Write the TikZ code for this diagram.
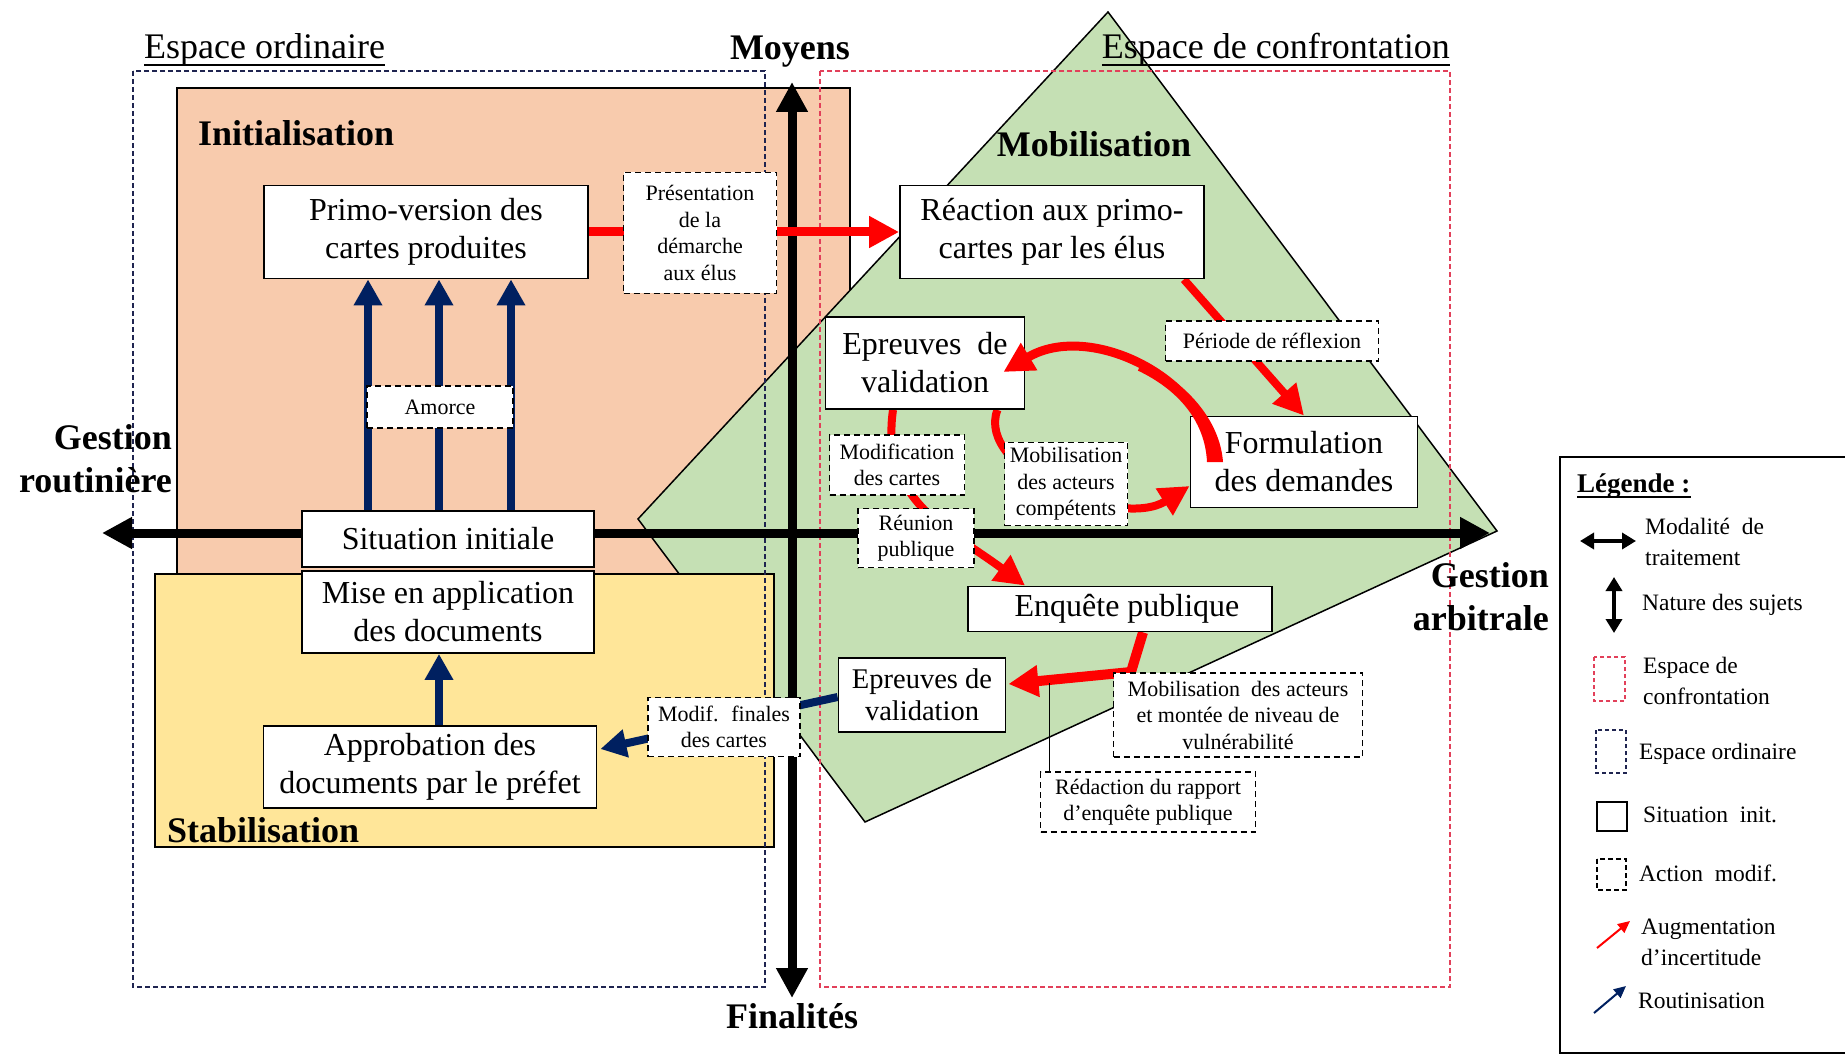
\documentclass[tikz,border=0pt]{standalone}
\usepackage{fontspec}
\setmainfont{Liberation Serif}
\usetikzlibrary{arrows.meta,calc}
\pgfdeclarelayer{back}
\pgfdeclarelayer{mid}
\pgfdeclarelayer{front}
\pgfsetlayers{back,mid,main,front}
\definecolor{salmon}{HTML}{F8CBAD}
\definecolor{gold}{HTML}{FFE699}
\definecolor{lgreen}{HTML}{C5E0B4}
\definecolor{navy}{HTML}{002060}
\definecolor{ordblue}{HTML}{1F2450}
\definecolor{confred}{HTML}{E2405A}
\tikzset{
  sz/.style 2 args={minimum width=#1pt, minimum height=#2pt},
  box/.style={draw=black, line width=1.8pt, fill=white, align=center, inner sep=0pt, font=\fontsize{32}{38}\selectfont},
  dbox/.style={draw=black, line width=1.6pt, dash pattern=on 6pt off 4pt, fill=white, align=center, inner sep=0pt, font=\fontsize{22}{26.5}\selectfont},
  lbl/.style={font=\fontsize{36}{43}\selectfont\bfseries, inner sep=0pt},
  ttl/.style={font=\fontsize{36}{43}\selectfont, inner sep=0pt},
  leg/.style={font=\fontsize{23.5}{31}\selectfont, inner sep=0pt, align=left, anchor=west},
  redar/.style={draw=red, line width=9pt, -{Triangle[length=30pt,width=30pt]}},
  navar/.style={draw=navy, line width=8pt, -{Triangle[length=26pt,width=27pt]}},
  axisar/.style={draw=black, line width=9pt, {Triangle[length=30pt,width=30pt]}-{Triangle[length=30pt,width=30pt]}},
  zone/.style={line width=1.4pt, dash pattern=on 5pt off 3pt},
  legar/.style={line width=4pt, {Triangle[length=14pt,width=16pt]}-{Triangle[length=14pt,width=16pt]}},
}
\begin{document}
\begin{tikzpicture}[x=1pt,y=-1pt]
\useasboundingbox (0,0) rectangle (1845,1056);

\begin{pgfonlayer}{back}
  \fill[white] (0,0) rectangle (1845,1056);
  \filldraw[fill=salmon, draw=black, line width=1.5pt] (177,88) rectangle (850,574);
  \filldraw[fill=lgreen, draw=black, line width=1.5pt] (1108,12) -- (1497,531) -- (865,822) -- (638,519) -- cycle;
  \filldraw[fill=gold, draw=black, line width=1.5pt] (155,574) rectangle (774,847);
  \draw[zone, draw=ordblue] (133,71) rectangle (765,987);
  \draw[zone, draw=confred] (820,71) rectangle (1450,987);
  \coordinate (axL) at (102,533);
  \coordinate (axR) at (1490,533);
  \coordinate (axT) at (792,82);
  \coordinate (axB) at (792,998);
  \draw[axisar] (axL) -- (axR);
  \draw[axisar] (axT) -- (axB);
\end{pgfonlayer}

% titles and labels
\node[ttl, anchor=base west] (eo) at (144,59) {Espace ordinaire};
\draw[line width=1.5pt] ([yshift=-6pt]eo.base west) -- ([yshift=-6pt]eo.base east);
\node[ttl, anchor=base east] (ec) at (1450,59) {Espace de confrontation};
\draw[line width=1.5pt] ([yshift=-6pt]ec.base west) -- ([yshift=-6pt]ec.base east);
\node[lbl] (moy) at (790,52) {Moyens};
\node[lbl] (fin) at (792,1016) {Finalités};
\node[lbl, anchor=west] (init) at (198,133) {Initialisation};
\node[lbl] (mobi) at (1094,144) {Mobilisation};
\node[lbl, anchor=west] (stab) at (167,830) {Stabilisation};
\node[lbl, anchor=east, align=right] (groute) at (172,459) {Gestion\\routinière};
\node[lbl, anchor=east, align=right] (garbi) at (1549,597) {Gestion\\arbitrale};

% solid boxes
\node[box, sz={324}{93}] (primo) at (426,232) {Primo-version des\\cartes produites};
\node[box, sz={304}{93}] (react) at (1052,232) {Réaction aux primo-\\cartes par les élus};
\node[box, sz={199}{92}] (epr1) at (925,363) {Epreuves~ de\\validation};
\node[box, sz={227}{91}] (form) at (1304,462) {Formulation\\des demandes};
\node[box, sz={292}{56}] (sit) at (448,539) {Situation initiale};
\node[box, sz={292}{82}] (mise) at (448,612) {Mise en application\\des documents};
\node[box, sz={333}{82}] (appr) at (430,767) {Approbation des\\documents par le préfet};
\node[box, sz={304}{45}] (enq) at (1120,609) {\hspace*{14pt}Enquête publique};
\node[box, sz={167}{74}, font=\fontsize{28.5}{32}\selectfont] (epr2) at (922,695) {Epreuves de\\validation};

% dashed boxes
\node[dbox, sz={153}{121}] (pres) at (700,233) {Présentation\\de la\\démarche\\aux élus};
\node[dbox, sz={146}{42}] (amor) at (440,407) {Amorce};
\node[dbox, sz={213}{40}] (peri) at (1272,341) {Période de réflexion};
\node[dbox, sz={135}{60}] (modc) at (897,465) {Modification\\des cartes};
\node[dbox, sz={123}{83}] (mobc) at (1066,484) {Mobilisation\\des acteurs\\compétents};
\node[dbox, sz={116}{59}] (reun) at (916,538) {Réunion\\publique};
\node[dbox, sz={152}{59}] (modf) at (724,727) {Modif.~ finales\\des cartes};
\node[dbox, sz={249}{84}] (mobv) at (1238,715) {Mobilisation~ des acteurs\\et montée de niveau de\\vulnérabilité};
\node[dbox, sz={215}{60}] (reda) at (1148,802) {Rédaction du rapport\\d’enquête publique};

% connectors under boxes
\coordinate (a1) at (368,0);
\coordinate (a2) at (439,0);
\coordinate (a3) at (511,0);
\coordinate (kink) at (1131,672);
\begin{pgfonlayer}{mid}
  \draw[redar] (primo.east) -- (react.west);
  \draw[redar, line width=8pt] ($(react.south east)+(-21,0)$) -- (form.north);
  \draw[redar, line width=8pt] ($(epr1.south)+(-32,0)$) .. controls (880,500) and (950,530) .. ($(enq.north west)+(58,0)$);
  \draw[redar, line width=8pt] ($(epr1.south east)+(-28,0)$) .. controls (975,470) and (1120,530) .. ($(form.west)+(0,24)$);
  \draw[redar, line width=10pt, line join=round] ($(enq.south)+(23,0)$) -- (kink) -- ($(epr2.east)+(2,-11)$);
  \draw[line width=1.5pt] ($(reda.north west)+(10,0)$) -- ++(0,-88);
  \draw[navar] (sit.north -| a1) -- (primo.south -| a1);
  \draw[navar] (sit.north -| a2) -- (primo.south -| a2);
  \draw[navar] (sit.north -| a3) -- (primo.south -| a3);
  \draw[navar] (appr.north -| a2) -- (mise.south -| a2);
  \draw[navar] ($(epr2.west)+(0,2)$) -- ($(appr.east)+(3,-18)$);
\end{pgfonlayer}

\begin{pgfonlayer}{front}
  \draw[redar] ($(form.west)+(24,-2)$) .. controls (1210,380) and (1090,320) .. ($(epr1.east)+(-22,9)$);
  % thicker tapered foot of the curved arrow
  \fill[red] (1223,462) .. controls (1220,420) and (1185.5,380.8) .. (1141.6,362.4)
     -- (1137.9,370.6) .. controls (1177,389.2) and (1205,420) .. (1207,462) -- cycle;
\end{pgfonlayer}

% legend
\draw[line width=1.5pt] (1845,457) -- (1560,457) -- (1560,1053) -- (1845,1053);
\node[font=\fontsize{27}{32}\selectfont\bfseries, inner sep=0pt, anchor=base west] (legt) at (1577,492) {Légende :};
\draw[line width=1.5pt] ([yshift=-5pt]legt.base west) -- ([yshift=-5pt]legt.base east);
\draw[legar] (1580,541) -- (1636,541);
\node[leg] (l1) at (1645,542) {Modalité~ de\\traitement};
\draw[legar] (1614,577) -- (1614,633);
\node[leg] (l2) at (1642,605) {Nature des sujets};
\draw[line width=1.2pt, draw=confred, dash pattern=on 4pt off 3pt] (1594,657) rectangle (1625,701);
\node[leg] (l3) at (1643,681) {Espace de\\confrontation};
\draw[line width=1.2pt, draw=ordblue, dash pattern=on 4pt off 3pt] (1596,730) rectangle (1626,773);
\node[leg] (l4) at (1639,754) {Espace ordinaire};
\draw[line width=2pt] (1597,802) rectangle (1627,831);
\node[leg] (l5) at (1643,815) {Situation~ init.};
\draw[line width=1.6pt, dash pattern=on 5pt off 3pt] (1597,859) rectangle (1626,890);
\node[leg] (l6) at (1639,873) {Action~ modif.};
\draw[red, line width=2pt, -{Triangle[length=12pt,width=11pt]}] (1597,948) -- (1630,921);
\node[leg] (l7) at (1641,942) {Augmentation\\d’incertitude};
\draw[navy, line width=2pt, -{Triangle[length=12pt,width=11pt]}] (1594,1013) -- (1626,986);
\node[leg] (l8) at (1638,1001) {Routinisation};
\end{tikzpicture}
\end{document}
